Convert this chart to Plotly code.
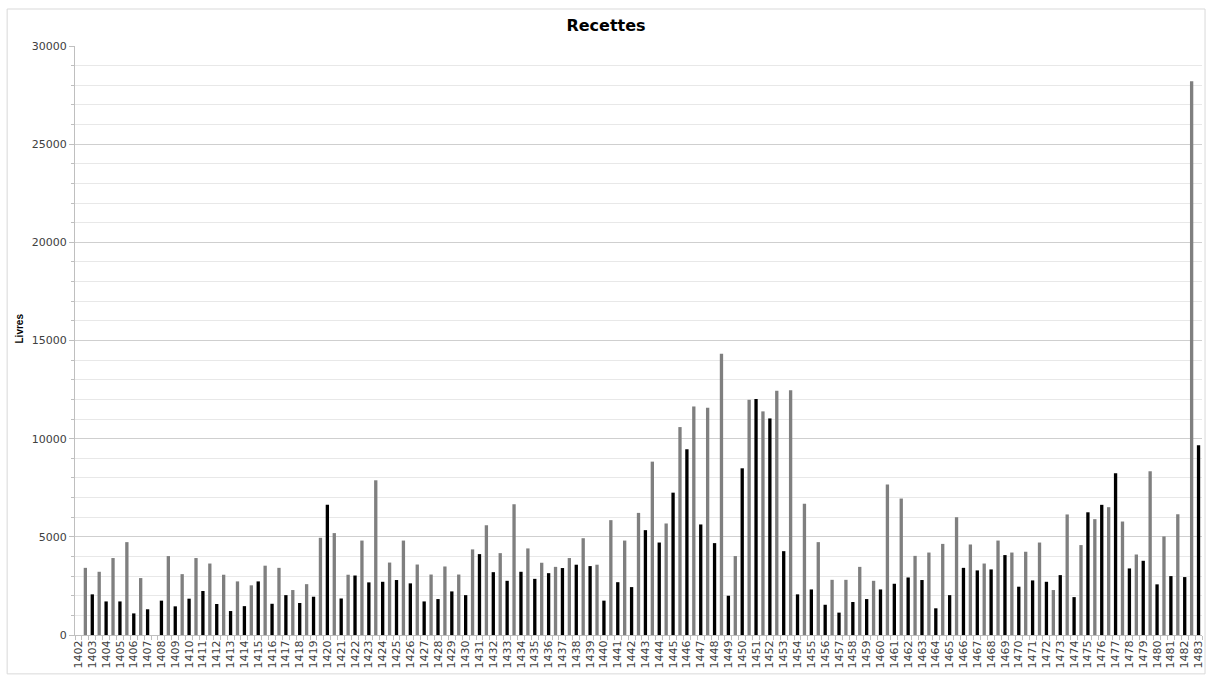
import plotly.graph_objects as go

# years on the axis (one label per year)
years = list(range(1402, 1484))

# black bars, one per labelled year (1402 has no value)
recettes_noir = [None, 2070, 1710, 1710, 1100, 1310, 1750, 1460, 1850, 2240,
                 1580, 1220, 1470, 2730, 1590, 2030, 1630, 1950, 6640, 1860,
                 3030, 2680, 2710, 2800, 2630, 1710, 1830, 2220, 2030, 4120,
                 3200, 2760, 3220, 2860, 3150, 3410, 3580, 3510, 1750, 2690,
                 2440, 5340, 4710, 7250, 9460, 5630, 4680, 2000, 8490, 12020,
                 11030, 4270, 2070, 2320, 1540, 1140, 1680, 1830, 2320, 2610,
                 2930, 2800, 1360, 2030, 3420, 3290, 3340, 4070, 2460, 2780,
                 2710, 3050, 1930, 6250, 6630, 8240, 3390, 3780, 2580, 3000,
                 2950, 9660]

# grey bars, sitting between two labelled years (1402/1403 ... 1482/1483)
recettes_gris = [3420, 3220, 3920, 4730, 2900, None, 4020, 3100, 3920, 3640,
                 3070, 2730, 2530, 3530, 3420, 2290, 2590, 4950, 5190, 3070,
                 4810, 7880, 3690, 4810, 3590, 3080, 3490, 3080, 4360, 5590,
                 4170, 6660, 4410, 3680, 3470, 3920, 4930, 3580, 5850, 4810,
                 6220, 8830, 5680, 10590, 11640, 11580, 14320, 4020, 11980, 11390,
                 12440, 12460, 6690, 4730, 2810, 2810, 3470, 2760, 7660, 6950,
                 4030, 4200, 4640, 6000, 4610, 3640, 4810, 4200, 4240, 4710,
                 2290, 6140, 4580, 5900, 6510, 5780, 4100, 8340, 5020, 6150,
                 28200]

x_gris = [y + 0.5 for y in years[:-1]]

fig = go.Figure()
fig.add_trace(go.Bar(x=x_gris, y=recettes_gris, width=0.24,
                     marker=dict(color="#7f7f7f", line=dict(width=0)), name="gris"))
fig.add_trace(go.Bar(x=years, y=recettes_noir, width=0.24,
                     marker=dict(color="#000000", line=dict(width=0)), name="noir"))

fig.update_xaxes(range=[1401.75, 1483.25], tickvals=years, ticktext=[str(y) for y in years],
                 tickangle=-90, ticks="", showgrid=False, zeroline=False,
                 showline=True, linecolor="#bfbfbf", linewidth=1,
                 tickfont=dict(family="DejaVu Sans", size=11, color="#404040"),
                 minor=dict(tick0=1401.75, dtick=0.5, ticks="outside", ticklen=4,
                            tickcolor="#bfbfbf", showgrid=False))
fig.update_yaxes(range=[0, 30000], dtick=5000, tickformat="d",
                 showgrid=True, gridcolor="#cfcfcf", gridwidth=1,
                 zeroline=False, showline=True, linecolor="#bfbfbf", linewidth=1,
                 ticks="outside", ticklen=5, tickcolor="#bfbfbf",
                 tickfont=dict(family="DejaVu Sans", size=11, color="#404040"),
                 minor=dict(dtick=1000, showgrid=True, gridcolor="#e8e8e8",
                            ticks="outside", ticklen=3, tickcolor="#bfbfbf"))

fig.update_layout(
    width=1212, height=675,
    barmode="overlay",
    showlegend=False,
    plot_bgcolor="white",
    paper_bgcolor="white",
    margin=dict(l=75, r=7, t=46, b=40),
    title=dict(text="<b>Recettes</b>", x=0.5, xanchor="center", y=0.963, yanchor="middle",
               font=dict(family="DejaVu Sans", size=16, color="black")),
    annotations=[dict(text="<b>Livres</b>", textangle=-90, xref="paper", yref="paper",
                      x=-0.049, y=0.52, xanchor="center", yanchor="middle", showarrow=False,
                      font=dict(family="Liberation Sans", size=10, color="black"))],
    shapes=[dict(type="rect", xref="paper", yref="paper", x0=-0.0602, x1=1.0027,
                 y0=-0.066, y1=1.0628, line=dict(color="#d9d9d9", width=1))],
)

# page body has a default margin; remove it so the figure sits at the window's corner
fig.write_html("out.html", config={"displayModeBar": False},
               post_script="document.body.style.margin='0';")
